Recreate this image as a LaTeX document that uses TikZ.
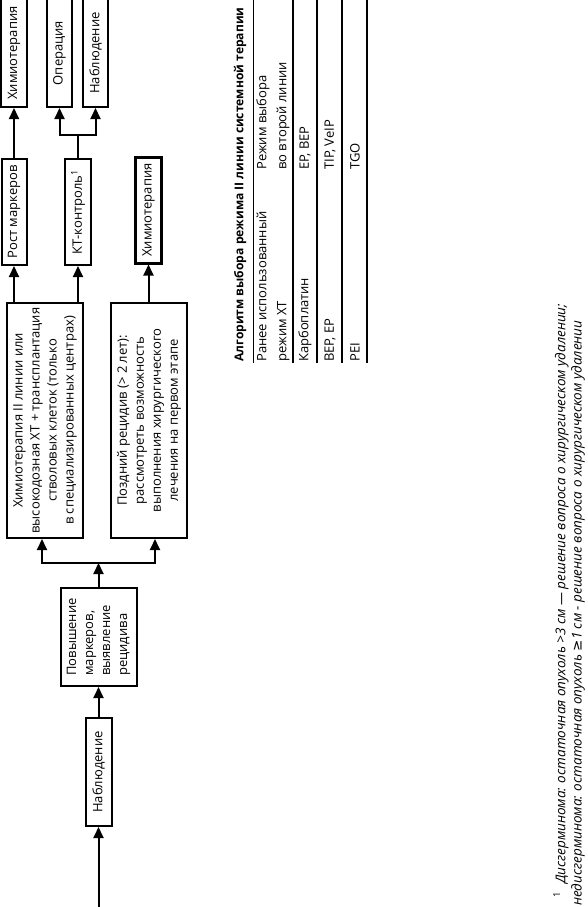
\documentclass[tikz,border=0pt]{standalone}
\usepackage{fontspec}
\setmainfont{Open Sans}
\newfontfamily\symf{DejaVu Sans}
\usetikzlibrary{arrows.meta}
\begin{document}
\begin{tikzpicture}[x=1pt,y=-1pt,
  box/.style={draw, line width=2pt, rotate=90, inner sep=0pt, font=\fontsize{13}{17}\selectfont, align=center},
  arr/.style={line width=2pt, -{Triangle[length=11pt,width=10pt]}},
  ln/.style={line width=2pt},
  rule/.style={line width=2pt},
  cell/.style={rotate=90, anchor=west, inner sep=0pt, font=\fontsize{13}{20}\selectfont, align=left},
  foot/.style={rotate=90, anchor=west, inner sep=0pt, font=\fontsize{13.5}{14}\selectfont\itshape}
  ]
\clip (0,0) rectangle (587,907);
\fill[white] (0,0) rectangle (587,907);
% top row
\node[box, minimum width=108pt, minimum height=26pt] (chemoA) at (14,53) {Химиотерапия};
\node[box, minimum width=108pt, minimum height=25pt] (oper) at (59.5,53) {Операция};
\node[box, minimum width=108pt, minimum height=25pt] (nablA) at (95.5,53) {Наблюдение};
% second row
\node[box, minimum width=106pt, minimum height=25pt] (rost) at (14,212) {Рост маркеров};
\node[box, minimum width=106pt, minimum height=26pt] (kt) at (78,212) {КТ-контроль\textsuperscript{1}};
\node[box, line width=3pt, minimum width=106pt, minimum height=26pt] (chemoB) at (148.5,210) {Химиотерапия};
% big boxes
\node[box, minimum width=235pt, minimum height=76pt] (big1) at (45,420.5)
  {Химиотерапия II линии или\\высокодозная ХТ + трансплантация\\стволовых клеток (только\\в специализированных центрах)};
\node[box, minimum width=235pt, minimum height=76pt] (big2) at (149,420.5)
  {Поздний рецидив (> 2 лет):\\рассмотреть возможность\\выполнения хирургического\\лечения на первом этапе};
% lower
\node[box, minimum width=98pt, minimum height=76pt, align=left] (pov) at (98.5,637)
  {Повышение\\маркеров,\\выявление\\рецидива};
\node[box, minimum width=108pt, minimum height=26pt] (nablB) at (98.5,772) {Наблюдение};
\coordinate (start) at (98.5,910);
\coordinate (j) at (98.5,563);
\coordinate (ktj) at (78,135);
% connectors
\draw[arr] (start) -- (nablB.west);
\draw[arr] (nablB.east) -- (pov.west);
\draw[arr] (pov.east) -- (j);
\draw[arr] (j) -| ([xshift=-3pt]big1.west);
\draw[arr] (j) -| ([xshift=6pt]big2.west);
\draw[arr] (big1.east -| rost.center) -- (rost.west);
\draw[arr] (big1.east -| kt.center) -- (kt.west);
\draw[arr] (big2.east -| chemoB.center) -- (chemoB.west);
\draw[arr] (rost.east) -- (chemoA.west);
\draw[ln] (kt.east) -- (ktj);
\draw[arr] (ktj) -| (oper.west);
\draw[arr] (ktj) -| (nablA.west);
% table
\node[cell, font=\fontsize{12.1}{14}\selectfont\bfseries] (title) at (240,362) {Алгоритм выбора режима II линии системной терапии};
\draw[line width=1pt] (253,0) -- (253,363);
\draw[rule] (293,0) -- (293,363);
\draw[rule] (317,0) -- (317,363);
\draw[rule] (342,0) -- (342,363);
\draw[rule] (367,0) -- (367,363);
\node[cell] (c11) at (273,362) {Ранее использованный\\режим ХТ};
\node[cell] (c12) at (273,170) {Режим выбора\\во второй линии};
\node[cell] (c21) at (305,362) {Карбоплатин};
\node[cell] (c22) at (305,170) {EP, BEP};
\node[cell] (c31) at (330,362) {BEP, EP};
\node[cell] (c32) at (330,170) {TIP, VeIP};
\node[cell] (c41) at (355,362) {PEI};
\node[cell] (c42) at (355,170) {TGO};
% footnote
\node[foot] (f1) at (561,898) {{\upshape\textsuperscript{1}}\hspace{8pt}Дисгерминома: остаточная опухоль >3 см — решение вопроса о хирургическом удалении;};
\node[foot] (f2) at (578,906) {недисгерминома: остаточная опухоль {\symf ≥}1 см - решение вопроса о хирургическом удалении};
\end{tikzpicture}
\end{document}
